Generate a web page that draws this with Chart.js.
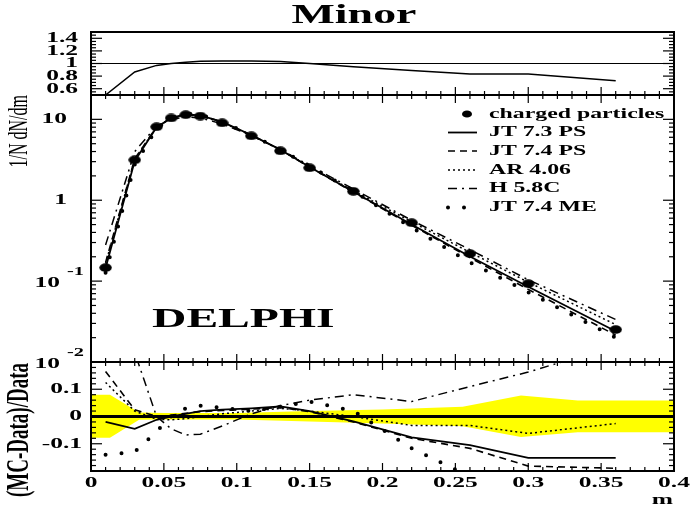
<!DOCTYPE html>
<html><head><meta charset="utf-8">
<script src="https://cdn.jsdelivr.net/npm/chart.js@4/dist/chart.umd.min.js"></script>
<style>html,body{margin:0;padding:0;background:#fff}#wrap{width:690px;height:513px;position:relative}</style>
</head><body><div id="wrap"><canvas id="c" width="690" height="513"></canvas></div>
<script>
// ---------------- data ----------------
const mBins      = [0.01, 0.03, 0.045, 0.055, 0.065, 0.075, 0.09, 0.11, 0.13, 0.15, 0.18, 0.22, 0.26, 0.30, 0.36];
const dataVals   = [0.147, 3.16, 8.1, 10.4, 11.4, 11.0, 9.05, 6.25, 4.08, 2.52, 1.29, 0.527, 0.219, 0.093, 0.0252];
const jt73Mid    = [0.145, 3.05, 8.0, 10.4, 11.5, 11.2, 9.3, 6.4, 4.2, 2.57, 1.27, 0.50, 0.202, 0.085, 0.024];
const jt74Mid    = [0.17, 3.25, 8.1, 10.4, 11.5, 11.2, 9.25, 6.4, 4.2, 2.56, 1.26, 0.49, 0.195, 0.079, 0.0215];
const arMid      = [0.165, 3.22, 8.0, 10.3, 11.3, 11.0, 9.15, 6.35, 4.2, 2.58, 1.31, 0.54, 0.227, 0.097, 0.029];
const hMid       = [0.28, 4.0, 8.3, 10.0, 10.7, 10.4, 8.8, 6.3, 4.25, 2.67, 1.38, 0.565, 0.245, 0.104, 0.0335];
const meMid      = [0.127, 2.75, 7.7, 10.4, 11.7, 11.45, 9.35, 6.4, 4.22, 2.65, 1.3, 0.46, 0.17, 0.073, 0.020];
const topRatio   = [0.5, 0.865, 0.97, 1.0, 1.02, 1.035, 1.04, 1.04, 1.03, 1.0, 0.95, 0.89, 0.835, 0.835, 0.725];
const rJT73      = [-0.02, -0.045, -0.012, 0.0, 0.01, 0.02, 0.025, 0.03, 0.037, 0.02, -0.018, -0.077, -0.105, -0.152, -0.152];
const rJT74      = [0.165, 0.025, 0.0, 0.005, 0.012, 0.018, 0.022, 0.027, 0.033, 0.018, -0.02, -0.08, -0.117, -0.182, -0.19];
const rAR        = [0.125, 0.02, -0.01, -0.012, -0.008, 0.0, 0.01, 0.02, 0.03, 0.02, 0.0, -0.033, -0.033, -0.062, -0.026];
const rH         = [0.9, 0.235, 0.0, -0.045, -0.068, -0.065, -0.035, 0.01, 0.04, 0.06, 0.08, 0.055, 0.11, 0.163, 0.26];
const rME        = [-0.14, -0.13, -0.055, 0.0, 0.03, 0.04, 0.032, 0.02, 0.036, 0.055, 0.02, -0.117, -0.22, -0.35, -0.4];
const bandX      = [0, 0.013, 0.033, 0.05, 0.1, 0.15, 0.2, 0.255, 0.295, 0.334, 0.4];
const bandUp     = [0.08, 0.08, 0.015, 0.013, 0.013, 0.02, 0.026, 0.036, 0.077, 0.059, 0.059];
const bandLo     = [-0.078, -0.078, -0.012, -0.011, -0.011, -0.018, -0.026, -0.036, -0.075, -0.058, -0.058];
const refLineX   = [0, 0.4];
const xTickVals  = [0, 0.05, 0.1, 0.15, 0.2, 0.25, 0.3, 0.35, 0.4];
const xTickLabs  = ['0', '0.05', '0.1', '0.15', '0.2', '0.25', '0.3', '0.35', '0.4'];
const topTickVals = [0.6, 0.8, 1.0, 1.2, 1.4];
const topTickLabs = ['0.6', '0.8', '1', '1.2', '1.4'];
const botTickVals = [-0.1, 0, 0.1];
const botTickLabs = ['-0.1', '0', '0.1'];
const logTickVals = [10, 1, 0.1, 0.01];
const logTickBase = ['10', '1', '10', '10'];
const logTickSup  = ['', '', '-1', '-2'];
const legendNames = ['charged particles', 'JT 7.3 PS', 'JT 7.4 PS', 'AR 4.06', 'H 5.8C', 'JT 7.4 ME'];

// ---------------- helpers ----------------
const S = 1.7; // horizontal stretch of the lettering in the picture
const SERIF = '"Liberation Serif", "Times New Roman", serif';
const pts = (xs, ys) => xs.map((x, i) => ({x: x, y: ys[i]}));

const dot = document.createElement('canvas');
dot.width = 13; dot.height = 9;
(function(){ const c = dot.getContext('2d'); c.fillStyle = '#000'; c.beginPath(); c.ellipse(6.5, 4.5, 6.2, 4.3, 0, 0, Math.PI*2); c.fill(); })();

function txt(ctx, s, x, y, size, o) {
  o = o || {};
  ctx.save();
  ctx.translate(x, y);
  ctx.scale(S, 1);
  if (o.rot) ctx.rotate(o.rot);
  ctx.font = (o.bold === false ? '' : 'bold ') + size + 'px ' + SERIF;
  ctx.textAlign = o.align || 'left';
  ctx.textBaseline = o.base || 'middle';
  ctx.fillStyle = '#000';
  ctx.fillText(s, 0, 0);
  ctx.restore();
}

const styles = {
  jt73: {borderColor:'#000', borderWidth:1.8, borderDash:[]},
  jt74: {borderColor:'#000', borderWidth:1.6, borderDash:[7,5]},
  ar:   {borderColor:'#000', borderWidth:1.5, borderDash:[2,3]},
  h:    {borderColor:'#000', borderWidth:1.5, borderDash:[9,5,2,5]},
  me:   {borderColor:'#000', borderWidth:4, borderDash:[0,16], borderCapStyle:'round'}
};
function lineDs(label, arr, axis, st, extra) {
  return Object.assign({label: label, data: pts(mBins, arr), yAxisID: axis, pointRadius: 0, fill: false, tension: 0}, st, extra || {});
}

const datasets = [
  {label: legendNames[0], data: pts(mBins, dataVals), yAxisID: 'yMid', showLine: false, pointStyle: dot, pointRadius: 5},
  lineDs(legendNames[1], jt73Mid, 'yMid', styles.jt73),
  lineDs(legendNames[2], jt74Mid, 'yMid', styles.jt74),
  lineDs(legendNames[3], arMid, 'yMid', styles.ar),
  lineDs(legendNames[4], hMid, 'yMid', styles.h),
  lineDs(legendNames[5], meMid, 'yMid', styles.me),
  lineDs('ratio top', topRatio, 'yTop', {borderColor:'#000', borderWidth:1.5}),
  {label:'one', data: pts(refLineX, [1, 1]), yAxisID:'yTop', borderColor:'#000', borderWidth:1.2, pointRadius:0},
  lineDs('r JT 7.3 PS', rJT73, 'yBot', styles.jt73),
  lineDs('r JT 7.4 PS', rJT74, 'yBot', styles.jt74),
  lineDs('r AR 4.06', rAR, 'yBot', styles.ar),
  lineDs('r H 5.8C', rH, 'yBot', styles.h),
  lineDs('r JT 7.4 ME', rME, 'yBot', styles.me),
  {label:'zero', data: pts(refLineX, [0, 0]), yAxisID:'yBot', borderColor:'#000', borderWidth:3, pointRadius:0},
  {label:'band up', data: pts(bandX, bandUp), yAxisID:'yBot', borderWidth:0, pointRadius:0, backgroundColor:'#ffff00', fill:'+1'},
  {label:'band lo', data: pts(bandX, bandLo), yAxisID:'yBot', borderWidth:0, pointRadius:0, fill:false}
];

const hidden = {ticks:{display:false}, grid:{display:false}, border:{display:false}, title:{display:false}};
const yFit = s => { s.width = 0; };

const decor = {
  id: 'decor',
  beforeDatasetDraw(chart, args) {
    const ys = chart.scales[args.meta.yAxisID];
    const a = chart.chartArea;
    chart.ctx.save();
    chart.ctx.beginPath();
    chart.ctx.rect(a.left, ys.top, a.right - a.left, ys.bottom - ys.top);
    chart.ctx.clip();
  },
  afterDatasetDraw(chart) { chart.ctx.restore(); },
  afterDraw(chart) {
    const ctx = chart.ctx, a = chart.chartArea, xs = chart.scales.x;
    const yT = chart.scales.yTop, yM = chart.scales.yMid, yB = chart.scales.yBot;
    ctx.save();
    ctx.strokeStyle = '#000'; ctx.lineWidth = 1.2; ctx.setLineDash([]);
    const seg = (x1, y1, x2, y2) => { ctx.beginPath(); ctx.moveTo(x1, y1); ctx.lineTo(x2, y2); ctx.stroke(); };
    // x ticks
    for (let k = 1; k < 40; k++) {
      const px = xs.getPixelForValue(k / 100), L = (k % 5 === 0) ? 8 : 4;
      seg(px, yT.bottom, px, yT.bottom - L);
      seg(px, yM.top, px, yM.top + L);
      seg(px, yM.bottom, px, yM.bottom - L);
      seg(px, yB.top, px, yB.top + L);
      seg(px, yB.bottom, px, yB.bottom - L);
    }
    // y ticks
    const yTick = (sc, v, major) => {
      const py = sc.getPixelForValue(v), L = major ? 11 : 5;
      seg(a.left, py, a.left + L, py);
      seg(a.right, py, a.right - L, py);
    };
    for (let k = 11; k < 30; k++) yTick(yT, k / 20, k % 4 === 0);
    for (let d = -2; d <= 1; d++) for (let j = 1; j <= 9; j++) {
      const v = j * Math.pow(10, d);
      if (v > 0.0100001 && v < 20) yTick(yM, v, j === 1);
    }
    for (let k = -9; k < 10; k++) yTick(yB, k / 50, k % 5 === 0);
    // frames
    ctx.lineWidth = 2;
    [yT, yM, yB].forEach(sc => ctx.strokeRect(a.left, sc.top, a.right - a.left, sc.bottom - sc.top));
    ctx.restore();

    // tick labels
    xTickVals.forEach((v, i) => txt(ctx, xTickLabs[i], xs.getPixelForValue(v), 483, 15, {align:'center'}));
    topTickVals.forEach((v, i) => txt(ctx, topTickLabs[i], 78, yT.getPixelForValue(v), 15, {align:'right'}));
    botTickVals.forEach((v, i) => txt(ctx, botTickLabs[i], 82, yB.getPixelForValue(v), 15, {align:'right'}));
    logTickVals.forEach((v, i) => {
      const py = yM.getPixelForValue(v);
      if (logTickSup[i]) {
        txt(ctx, logTickBase[i], 60, py + 2, 15, {align:'right'});
        txt(ctx, logTickSup[i], 67, py - 9, 12, {align:'left'});
      } else {
        txt(ctx, logTickBase[i], 67, py, 15, {align:'right'});
      }
    });
    // titles
    txt(ctx, 'Minor', 354, 23, 27, {align:'center', base:'alphabetic'});
    txt(ctx, 'DELPHI', 152, 327, 28, {align:'left', base:'alphabetic'});
    txt(ctx, 'm', 673, 504, 15, {align:'right', base:'alphabetic'});
    txt(ctx, '1/N dN/dm', 27, yM.top, 16, {align:'right', base:'alphabetic', rot:-Math.PI/2, bold:false});
    txt(ctx, '(MC-Data)/Data', 28, yB.top + 1, 19, {align:'right', base:'alphabetic', rot:-Math.PI/2});

    // legend
    const rows = [114, 132.5, 151, 170, 188.5, 207.5];
    ctx.save();
    for (let i = 0; i < legendNames.length; i++) {
      const ds = chart.data.datasets[i], y = rows[i];
      if (i === 0) {
        ctx.fillStyle = '#000';
        ctx.beginPath(); ctx.ellipse(467, y, 5, 3.6, 0, 0, Math.PI*2); ctx.fill();
      } else {
        ctx.strokeStyle = '#000';
        ctx.lineWidth = ds.borderWidth;
        ctx.setLineDash(ds.borderDash || []);
        ctx.lineCap = ds.borderCapStyle || 'butt';
        ctx.beginPath(); ctx.moveTo(448, y); ctx.lineTo(i === 5 ? 465 : 477, y); ctx.stroke();
      }
      txt(ctx, legendNames[i], 489, y, 14, {align:'left'});
    }
    ctx.restore();
  }
};

new Chart(document.getElementById('c'), {
  type: 'line',
  data: {datasets: datasets},
  options: {
    responsive: false, animation: false, devicePixelRatio: 1, events: [],
    layout: {padding: {left: 91, right: 16, top: 32, bottom: 42}},
    plugins: {legend: {display: false}, tooltip: {enabled: false}, title: {display: false}},
    scales: {
      x: Object.assign({type:'linear', min:0, max:0.4, position:'bottom', afterFit: s => { s.height = 0; }}, hidden),
      yTop: Object.assign({type:'linear', min:0.5, max:1.5, position:'left', stack:'panels', stackWeight:63, weight:3, afterFit:yFit}, hidden),
      yMid: Object.assign({type:'logarithmic', min:0.01, max:20, position:'left', stack:'panels', stackWeight:267, weight:2, afterFit:yFit}, hidden),
      yBot: Object.assign({type:'linear', min:-0.2, max:0.2, position:'left', stack:'panels', stackWeight:109, weight:1, afterFit:yFit}, hidden)
    }
  },
  plugins: [decor]
});
</script>
</body></html>
